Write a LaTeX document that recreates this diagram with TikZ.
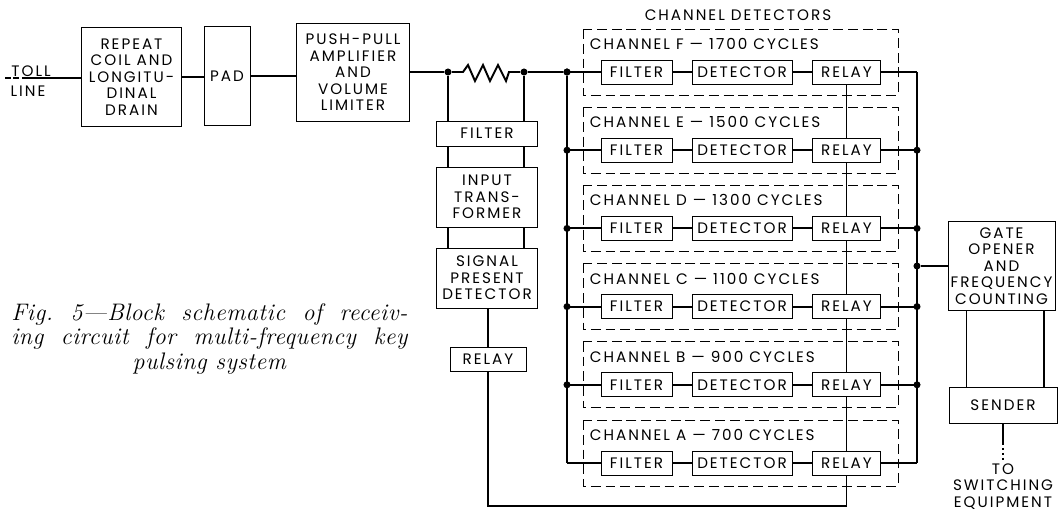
\documentclass[tikz,border=0pt]{standalone}
\usepackage{fontspec}
\usepackage{tikz}
\usetikzlibrary{positioning}
\newfontfamily\lblfont{Poppins}[LetterSpace=13]
\newfontfamily\capserif{Latin Modern Roman}[LetterSpace=2, Ligatures=TeX]
\newcommand{\lbl}{\lblfont\fontsize{10.8}{11.7}\selectfont}
\newcommand{\capfont}{\capserif\itshape\fontsize{17}{17.4}\selectfont}
\newlength{\capw}\setlength{\capw}{9.9cm}
\tikzset{
  blk/.style={draw, line width=0.7pt, inner sep=1pt, align=center, font=\lbl},
  wire/.style={line width=1.4pt},
  chbox/.style={draw, line width=0.7pt, dash pattern=on 7pt off 3.5pt},
  dot/.style={circle, fill, inner sep=0pt, minimum size=5pt},
}

\begin{document}
\begin{tikzpicture}[x=0.025cm,y=-0.025cm]
\useasboundingbox (0,0) rectangle (1061,513);
% input chain
\node[font=\lbl] (toll) at (31,71) {TOLL};
\node[font=\lbl] (tline) at (28,91) {LINE};
\node[blk, minimum width=2.475cm, minimum height=2.45cm] (coil) at (131.5,77) {REPEAT\\COIL AND\\LONGITU-\\DINAL\\DRAIN};
\node[blk, minimum width=1.15cm, minimum height=2.475cm] (pad) at (227,76) {PAD};
\node[blk, minimum width=2.8cm, minimum height=2.425cm] (pp) at (353,72.5) {PUSH-PULL\\AMPLIFIER\\AND\\VOLUME\\LIMITER};
\coordinate (tl) at (25,78);
\draw[wire, dash pattern=on 4pt off 2pt] (5,78) -- (tl);
\draw[wire] (tl) -- (coil.west |- tl);
\draw[wire] (coil.east) -- (coil.east -| pad.west);
\draw[wire] (pad.east) -- (pad.east -| pp.west);
%
\node[dot] (j1) at (448,72) {};
\node[dot] (j2) at (524,72) {};
\node[dot] (j3) at (567,72) {};
\draw[wire] (pp.east |- j1) -- (j1) -- (463,72) -- (468,65) -- (475,81) -- (483,65) -- (490,81) -- (498,65) -- (506,81) -- (509,72) -- (j2) -- (j3);
% signal present branch
\node[blk, minimum width=2.5cm, minimum height=0.625cm] (lfilt) at (487,133.5) {FILTER};
\node[blk, minimum width=2.5cm, minimum height=1.5cm] (xfmr) at (487,197) {INPUT\\TRANS-\\FORMER};
\node[blk, minimum width=2.5cm, minimum height=1.5cm] (spd) at (487,278) {SIGNAL\\PRESENT\\DETECTOR};
\node[blk, minimum width=1.9cm, minimum height=0.6cm] (lrly) at (488,359) {RELAY};
\foreach \j in {j1,j2}{
  \draw[wire] (\j) -- (\j |- lfilt.north);
  \draw[wire] (\j |- lfilt.south) -- (\j |- xfmr.north);
  \draw[wire] (\j |- xfmr.south) -- (\j |- spd.north);
}
\draw[wire] (spd.south -| lrly.north) -- (lrly.north);
% channel detectors
\node[font=\lbl] (title) at (738,15) {CHANNEL DETECTORS};
\foreach \ch/\freq [count=\k from 0] in {F/1700,E/1500,D/1300,C/1100,B/900,A/700}{
  \pgfmathsetmacro\yy{72+78.2*\k}
  \draw[chbox] (583,\yy-43) rectangle (898,\yy+23);
  \node[anchor=west, font=\lbl] (lab\ch) at (585,\yy-28) {CHANNEL \ch\ — \freq\ CYCLES};
  \node[blk, minimum width=1.775cm, minimum height=0.6cm] (filt\ch) at (636.5,\yy) {FILTER};
  \node[blk, minimum width=2.5cm, minimum height=0.6cm] (det\ch) at (742,\yy) {DETECTOR};
  \node[blk, minimum width=1.7cm, minimum height=0.6cm] (rly\ch) at (846.5,\yy) {RELAY};
  \coordinate (lb\ch) at (567,\yy);
  \coordinate (rb\ch) at (917,\yy);
  \draw[wire] (lb\ch) -- (filt\ch.west);
  \draw[wire] (filt\ch.east) -- (det\ch.west);
  \draw[wire] (det\ch.east) -- (rly\ch.west);
  \draw[wire] (rly\ch.east) -- (rb\ch);
}
\draw[wire] (j3) -- (lbA);
\draw[wire] (rbF) -- (rbA);
\foreach \a/\b in {F/E,E/D,D/C,C/B,B/A}
  \draw[wire] (rly\a.south) -- (rly\b.north);
\coordinate (ret1) at (846.5,506);
\coordinate (ret2) at (488,506);
\draw[wire] (rlyA.south) -- (ret1) -- (ret2) -- (lrly.south);
\foreach \ch in {E,D,C,B}{
  \node[dot] (dl\ch) at (lb\ch) {};
  \node[dot] (dr\ch) at (rb\ch) {};
}
\node[dot] (dlF) at (lbF) {};
% output side
\node[dot] (jm) at (917,266) {};
\node[blk, minimum width=2.675cm, minimum height=2.225cm] (gate) at (1001.5,266) {GATE\\OPENER\\AND\\FREQUENCY\\COUNTING};
\node[blk, minimum width=2.7cm, minimum height=0.9cm] (sender) at (1003,405) {SENDER};
\draw[wire] (jm) -- (gate.west);
\draw[wire] ([xshift=0.475cm]gate.south west) -- ([xshift=0.475cm]gate.south west |- sender.north);
\draw[wire] ([xshift=2.4cm]gate.south west) -- ([xshift=2.4cm]gate.south west |- sender.north);
\coordinate (sw1) at (1003,443);
\coordinate (sw2) at (1003,462);
\draw[wire] (sender.south) -- (sw1);
\draw[wire, dash pattern=on 1.5pt off 2pt] (sw1) -- (sw2);
\node[font=\lbl, align=center, anchor=north, inner sep=1pt] (sweq) at (sw2) {TO\\SWITCHING\\EQUIPMENT};
% caption
\node[anchor=north west, align=center, font=\capfont, inner sep=0pt] (cap) at (11,303)
  {\makebox[\capw][s]{Fig.\ 5---Block schematic of receiv-}\\
   \makebox[\capw][s]{ing circuit for multi-frequency key}\\
   pulsing system};
\end{tikzpicture}
\end{document}
